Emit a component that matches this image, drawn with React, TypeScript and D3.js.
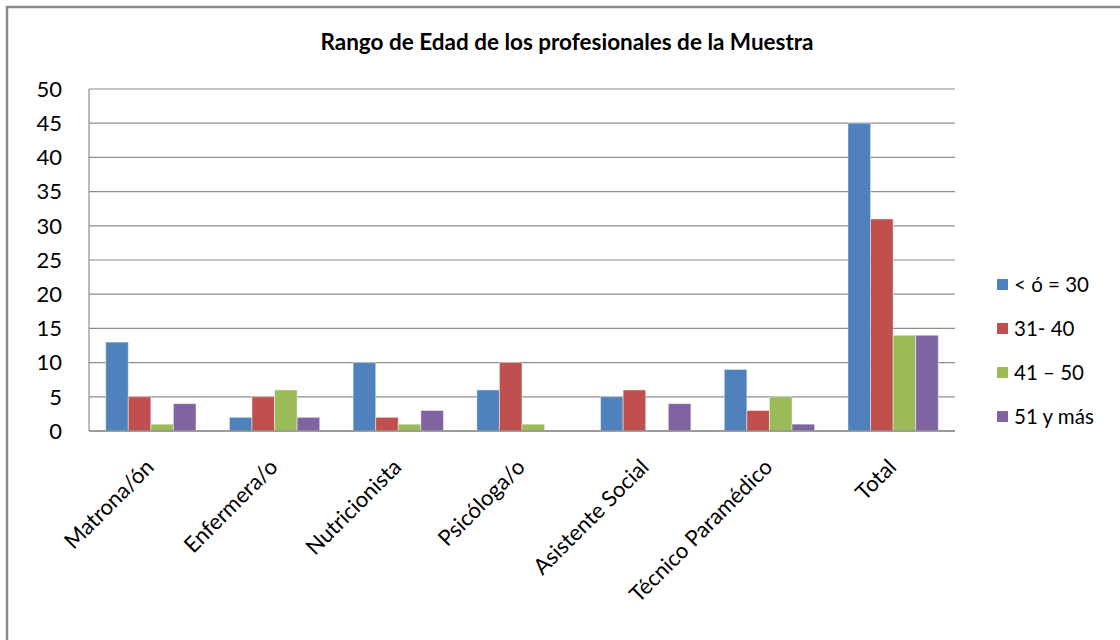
import * as d3 from "d3";

const categories = [
  "Matrona/ón",
  "Enfermera/o",
  "Nutricionista",
  "Psicóloga/o",
  "Asistente Social",
  "Técnico Paramédico",
  "Total",
];
const seriesNames = ["< ó = 30", "31- 40", "41 – 50", "51 y más"];
const under30 = [13, 2, 10, 6, 5, 9, 45];
const age31to40 = [5, 5, 2, 10, 6, 3, 31];
const age41to50 = [1, 6, 1, 1, 0, 5, 14];
const age51plus = [4, 2, 3, 0, 4, 1, 14];
const yTicks = [0, 5, 10, 15, 20, 25, 30, 35, 40, 45, 50];

const seriesValues = [under30, age31to40, age41to50, age51plus];
const colors = ["#4F81BD", "#C0504D", "#9BBB59", "#8064A2"];

const W = 1120;
const H = 640;
const margin = { top: 89, right: 165, bottom: 209, left: 89 };
const font = "Lato, 'Open Sans', sans-serif";

export default function App() {
  const innerW = W - margin.left - margin.right;
  const innerH = H - margin.top - margin.bottom;

  // grouped bars: outer band per category, inner band per age range
  const x0 = d3
    .scaleBand<string>()
    .domain(categories)
    .range([0, innerW])
    .paddingInner(0.27)
    .paddingOuter(0.135);
  const x1 = d3
    .scaleBand<number>()
    .domain(d3.range(seriesNames.length))
    .range([0, x0.bandwidth()]);
  const y = d3.scaleLinear().domain([0, 50]).range([innerH, 0]);
  const xc = d3.scaleBand<string>().domain(categories).range([0, innerW]);

  return (
    <svg
      width={W}
      height={H}
      style={{ position: "absolute", left: 0, top: 0, background: "#fff" }}
      fontFamily={font}
    >
      <rect x={7} y={7} width={W + 20} height={H + 20} fill="#fff" stroke="#8a8a8a" strokeWidth={2.5} />
      <text x={567} y={50} textAnchor="middle" fontSize={22.5} fontWeight="bold" fill="#000">
        Rango de Edad de los profesionales de la Muestra
      </text>
      <g transform={`translate(${margin.left},${margin.top})`}>
        {yTicks.map((t) => (
          <g key={t}>
            <line x1={0} x2={innerW} y1={y(t)} y2={y(t)} stroke="#8c8c8c" strokeWidth={1.2} />
            <text x={-27} y={y(t)} dy="0.35em" textAnchor="end" fontSize={22} fill="#000">
              {t}
            </text>
          </g>
        ))}
        <line x1={0} x2={0} y1={0} y2={innerH} stroke="#8c8c8c" strokeWidth={1.2} />
        {categories.map((c, ci) => (
          <g key={c} transform={`translate(${x0(c)},0)`}>
            {seriesValues.map((vals, si) => (
              <rect
                key={si}
                x={x1(si)}
                y={y(vals[ci])}
                width={x1.bandwidth()}
                height={innerH - y(vals[ci])}
                fill={colors[si]}
                stroke="#ffffff"
                strokeOpacity={0.45}
                strokeWidth={1}
              />
            ))}
          </g>
        ))}
        <line x1={0} x2={innerW} y1={innerH} y2={innerH} stroke="#8c8c8c" strokeWidth={1.5} />
        {categories.map((c) => {
          const cx = (xc(c) ?? 0) + xc.bandwidth() / 2 - 1;
          return (
            <text
              key={c}
              transform={`translate(${cx},${innerH + 32}) rotate(-45)`}
              textAnchor="end"
              dy="0.35em"
              fontSize={22}
              fill="#000"
            >
              {c}
            </text>
          );
        })}
      </g>
      <g transform="translate(997,285)">
        {seriesNames.map((n, i) => (
          <g key={n} transform={`translate(0,${i * 44})`}>
            <rect x={0} y={-6} width={11} height={11} fill={colors[i]} />
            <text x={17} y={0} dy="0.35em" fontSize={20.5} fill="#000">
              {n}
            </text>
          </g>
        ))}
      </g>
    </svg>
  );
}
